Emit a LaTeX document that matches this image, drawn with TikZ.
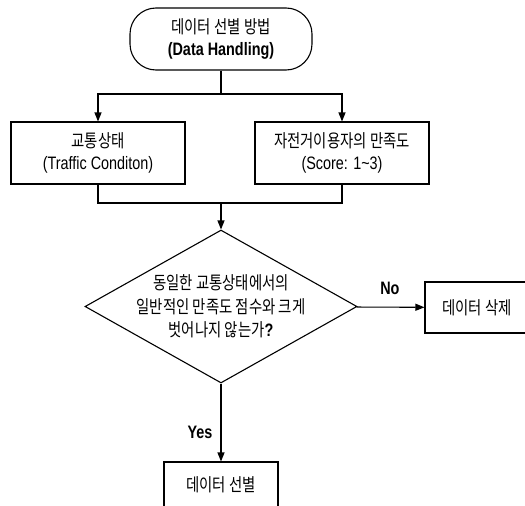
\documentclass[tikz,border=0pt]{standalone}
\usepackage{fontspec}
\setmainfont[FakeStretch=0.8]{Liberation Sans}
\newfontfamily\kr[FakeStretch=0.8]{Noto Sans CJK KR}
\usetikzlibrary{shapes.geometric,arrows.meta}

\begin{document}
\begin{tikzpicture}[x=1pt,y=-1pt,line width=1.1pt,
  txt/.style={font=\fontsize{18}{22}\selectfont,align=center,inner sep=0pt},
  box/.style={draw,txt,minimum width=174pt,minimum height=62pt},
  arr/.style={-{Triangle[width=7pt,length=9pt]}}]
  \useasboundingbox (0,0) rectangle (525,506);
  % nodes
  \node[draw,txt,rounded corners=26pt,minimum width=182pt,minimum height=62pt] (method) at (221,39)
    {{\kr 데이터 선별 방법}\\\textbf{(Data Handling)}};
  \node[box] (traffic) at (98,153) {{\kr 교통상태}\\(Traffic Conditon)};
  \node[box] (score) at (342,153) {{\kr 자전거이용자의 만족도}\\(Score: 1\textasciitilde3)};
  \node[draw,diamond,minimum width=272pt,minimum height=153pt,inner sep=0pt] (check) at (221,306.5) {};
  \node[txt,font=\fontsize{18}{23.5}\selectfont] (checktxt) at (check.center)
    {{\kr 동일한 교통상태에서의}\\{\kr 일반적인 만족도 점수와 크게}\\{\kr 벗어나지 않는가}\textbf{?}};
  \node[draw,txt,minimum width=104pt,minimum height=51pt] (delete) at (477,307.5) {\kr 데이터 삭제};
  \node[draw,txt,minimum width=114pt,minimum height=46pt] (select) at (221,485) {\kr 데이터 선별};
  \coordinate (split) at (221,94);
  \coordinate (merge) at (221,203);
  % connectors
  \draw (method) -- (split);
  \draw[arr] (split) -| (traffic);
  \draw[arr] (split) -| (score);
  \draw (traffic) |- (merge);
  \draw (score) |- (merge);
  \draw[arr] (merge) -- (check);
  \draw[arr] (check) -- node[txt,above=12pt,pos=0.49] {\textbf{No}} (delete);
  \draw[arr] (check) -- node[txt,left=8pt,pos=0.63] {\textbf{Yes}} (select);
\end{tikzpicture}
\end{document}
